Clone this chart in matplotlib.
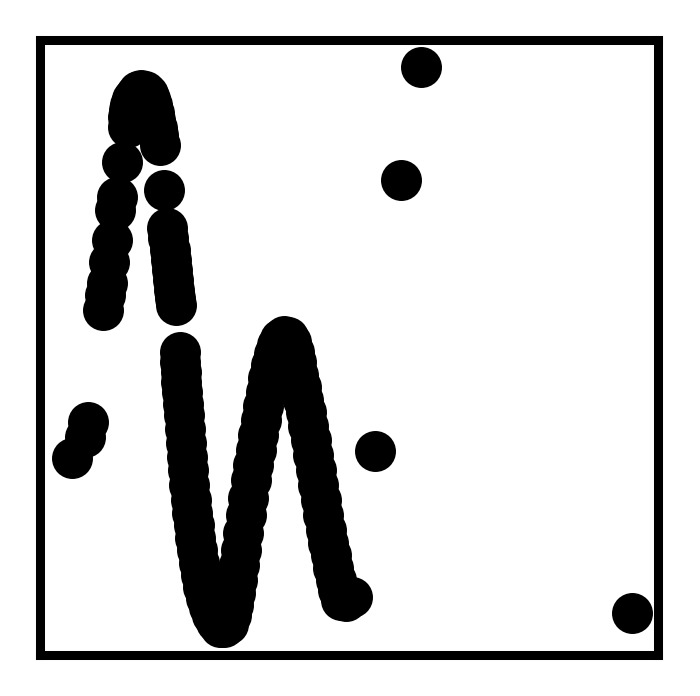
import matplotlib
matplotlib.use("Agg")
import matplotlib.pyplot as plt

# points (x, y in plot units)
x_blob = [48, 45, 32]
y_blob = [233, 218, 197]

x_arch = [63, 65, 67, 69, 72, 75, 77, 82,
          88, 88, 89, 90, 92, 95, 98, 101, 105, 108, 110, 112, 114, 115, 117, 118, 120,
          124, 127, 128, 130, 131, 132, 133, 134, 135, 136]
y_arch = [345, 360, 372, 393, 415, 445, 458, 493,
          528, 538, 545, 550, 556, 560, 564, 565, 564, 561, 556, 550, 542, 535, 527, 520, 510,
          465, 427, 417, 405, 395, 385, 375, 365, 357, 350]

x_wave = [140, 140, 141, 141, 142, 143, 144, 145, 146, 147, 148, 149, 151, 152, 154, 155,
          157, 159, 161, 163, 166, 169, 172, 176, 180, 184,
          188, 191, 193, 195, 197, 199, 201, 203, 206, 208, 211, 213, 216, 218, 221, 223,
          226, 228, 231, 234, 237, 240, 244, 248,
          251, 254, 256, 258, 261, 263, 266, 268, 271, 273, 276, 278, 281, 283, 286, 288,
          291, 293, 296, 298, 301, 306, 312]
y_wave = [303, 293, 283, 273, 263, 251, 240, 226, 212, 198, 185, 170, 155, 142, 130, 117,
          105, 92, 80, 68, 57, 48, 40, 33, 28, 28,
          31, 40, 50, 62, 75, 90, 105, 122, 140, 157, 175, 190, 205, 220, 235, 249,
          263, 277, 290, 301, 310, 316, 319, 318,
          313, 303, 293, 280, 268, 255, 243, 229, 215, 200, 185, 170, 155, 140, 125, 112,
          100, 87, 75, 65, 55, 54, 58]

x_single = [381, 361, 335, 592]
y_single = [588, 475, 204, 42]

x_all = x_blob + x_arch + x_wave + x_single
y_all = y_blob + y_arch + y_wave + y_single

fig = plt.figure(figsize=(7, 6.96), dpi=100)
ax = fig.add_axes([0.057, 0.059, 0.883, 0.884])

ax.scatter(x_all, y_all, s=870, c="black", linewidths=0)

ax.set_xlim(0, 618)
ax.set_ylim(0, 615)
ax.set_xticks([])
ax.set_yticks([])
for sp in ax.spines.values():
    sp.set_linewidth(6.5)
    sp.set_color("black")

fig.savefig("out.png", dpi=100)
